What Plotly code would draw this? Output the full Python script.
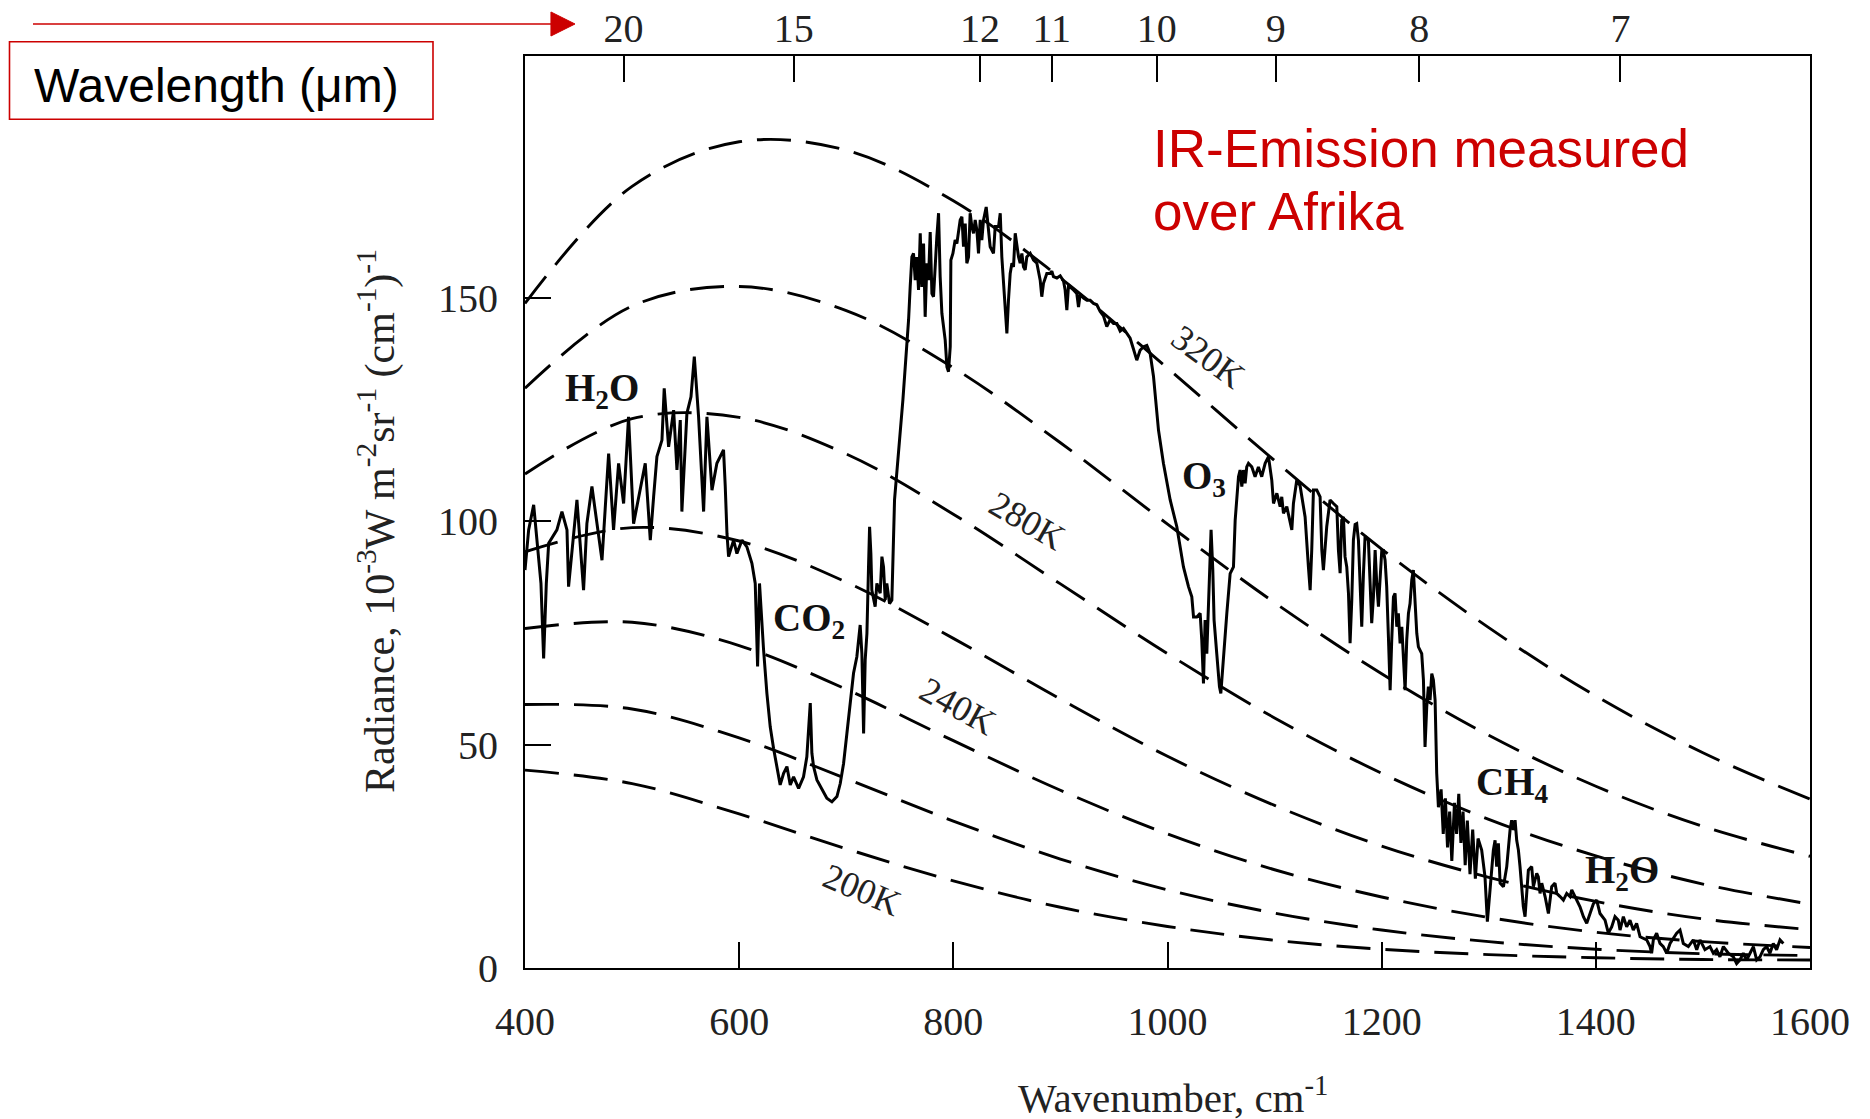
import plotly.graph_objects as go

# ---- blackbody reference curves (10^-3 W m^-2 sr^-1 (cm^-1)^-1), every 100 cm^-1 ----
curve_wn = [400, 500, 600, 700, 800, 900, 1000, 1100, 1200, 1300, 1400, 1500, 1600]
bb_200K = [44.3, 41.3, 34.5, 26.7, 19.5, 13.6, 9.3, 6.2, 4.2, 3.0, 2.3, 1.9, 1.8]
bb_220K = [59.0, 58.0, 51.5, 42.4, 32.9, 24.4, 17.5, 12.3, 8.5, 5.9, 4.2, 3.2, 2.8]
bb_240K = [76.0, 77.4, 72.2, 62.4, 50.9, 39.8, 30.0, 22.0, 15.9, 11.3, 8.0, 5.9, 4.6]
bb_260K = [93.2, 98.6, 95.6, 86.4, 73.8, 60.2, 47.4, 36.4, 27.3, 20.3, 14.9, 11.0, 8.6]
bb_280K = [110.6, 123.0, 123.3, 115.1, 101.6, 86.0, 70.4, 56.0, 43.6, 33.3, 25.1, 18.8, 14.3]
bb_300K = [129.8, 148.2, 152.6, 147.2, 134.4, 117.6, 99.4, 81.8, 65.9, 52.1, 40.7, 31.7, 25.0]
bb_320K = [148.8, 175.0, 185.0, 183.1, 171.8, 154.5, 134.3, 113.6, 93.8, 76.2, 60.9, 48.2, 37.8]

# ---- measured emission spectrum ----
wavenumber = [
    400.0, 403.4, 408.1, 411.2, 414.9, 417.4, 419.9, 422.1, 429.8, 434.5, 439.2, 440.7,
    448.5, 454.7, 457.8, 462.5, 471.9, 478.1, 482.7, 487.4, 492.1, 496.7, 501.4, 512.3,
    517.0, 520.1, 523.2, 527.9, 530.0, 534.1, 538.8, 541.9, 545.0, 546.5, 551.2, 555.0,
    558.1, 562.1, 565.2, 566.8, 569.9, 574.6, 579.2, 585.4, 587.0, 588.6, 590.1, 594.8,
    597.9, 602.6, 607.2, 611.9, 615.0, 617.2, 619.0, 621.0, 622.8,
    625.9, 629.0, 632.1, 635.2, 638.3, 641.5, 644.6, 647.7, 650.8, 655.5, 660.1, 663.2,
    664.8, 666.4, 667.9, 669.5, 672.6, 677.3, 681.9, 686.6, 691.3, 694.4, 697.5, 700.6,
    703.7, 706.8, 709.9, 713.0, 714.6, 716.2, 717.7, 719.3, 720.8, 721.8, 723.0, 723.9,
    727.0, 728.6, 731.7, 733.3, 734.8, 736.4, 737.9, 740.4, 742.6, 744.2, 745.1,
    752.9, 755.1, 756.6, 758.2, 759.7, 761.3, 762.8, 764.4, 765.9, 767.5, 769.1, 770.6,
    772.2, 773.7, 775.3, 776.8, 778.4, 780.0, 781.5, 783.1, 784.6, 786.2, 787.7, 789.3,
    792.4, 794.0, 795.5, 797.1, 797.7, 799.6, 801.7, 803.3, 806.4, 808.0, 809.5, 811.1,
    812.6, 814.2, 815.7, 817.3, 818.9, 820.4, 822.0, 823.5, 825.1, 826.6, 828.2, 830.7,
    832.9, 834.4, 837.5, 839.1, 842.2, 843.8, 845.3, 846.9, 848.4, 850.0, 851.5, 853.1,
    854.7, 856.2, 857.8, 859.3, 860.9, 862.4, 864.0, 865.5, 867.1, 868.6, 871.8, 874.9,
    878.0, 881.1, 882.6, 884.2, 887.3, 890.4, 892.0, 893.5, 896.7, 899.8, 902.9, 904.4,
    906.0, 907.6, 909.1, 912.2, 915.3, 916.9, 918.4, 921.6, 924.7, 927.8, 930.9, 934.0,
    937.1, 940.2, 943.3, 946.4, 949.6, 952.7, 955.8, 958.9, 962.0, 965.1, 968.2, 971.3,
    974.4, 977.6, 980.7, 983.8,
    986.9, 990.0, 991.6, 996.2, 1002.5, 1008.7, 1011.8, 1014.9, 1019.6, 1022.7, 1024.3,
    1027.4, 1030.5, 1032.0, 1033.6, 1035.1, 1036.7, 1038.3, 1039.8, 1040.7, 1042.3,
    1043.5, 1046.0, 1048.5, 1049.8, 1052.3, 1055.4, 1058.5, 1061.6, 1063.2, 1064.7,
    1066.3, 1067.8, 1069.4, 1070.9, 1072.5, 1074.0, 1075.6, 1078.7, 1081.8, 1084.9,
    1088.0, 1091.2, 1094.3, 1097.4, 1099.0, 1102.1, 1105.2, 1106.7, 1108.3, 1111.4,
    1114.5, 1116.1, 1117.6, 1120.7,
    1123.8, 1128.5, 1131.6, 1133.2, 1134.7, 1136.3, 1139.4, 1142.5, 1144.1, 1145.6,
    1148.7, 1151.8, 1155.0, 1158.1, 1159.6, 1161.2, 1162.7, 1164.3, 1165.8, 1167.4,
    1169.0, 1170.5, 1172.1, 1173.6, 1175.2, 1176.7, 1178.3, 1179.8, 1181.4, 1183.0,
    1184.5, 1187.6, 1189.2, 1190.7, 1192.3, 1193.9, 1195.4, 1197.0, 1200.1, 1201.6,
    1203.2, 1204.7, 1206.3, 1207.9, 1209.4, 1211.0, 1212.5, 1214.1, 1215.6, 1217.2,
    1218.8, 1220.3, 1221.9, 1223.4, 1225.0, 1226.5, 1228.1, 1229.6, 1231.2, 1232.8,
    1234.3, 1237.4, 1239.0, 1239.6, 1240.5, 1242.1, 1243.6, 1245.2, 1246.8, 1248.3,
    1249.9, 1251.4,
    1253.0, 1255.5, 1257.5, 1259.5, 1261.5, 1263.5, 1265.5, 1268.0, 1270.0, 1272.0,
    1274.0, 1276.0, 1278.0, 1280.0, 1282.5, 1285.0, 1287.5, 1290.0,
    1293.4, 1296.5, 1298.7, 1301.2, 1304.3, 1305.9, 1307.4, 1309.0, 1310.6, 1313.7,
    1316.8, 1319.9, 1321.4, 1323.0, 1324.6, 1326.1, 1327.7, 1329.2, 1330.8, 1332.3,
    1333.9, 1335.5, 1337.0, 1340.1, 1341.7, 1343.2, 1344.8, 1346.3, 1347.9, 1349.5,
    1352.6, 1355.7, 1357.2, 1358.8, 1361.9, 1363.5, 1366.6, 1369.7, 1372.8, 1375.9,
    1377.5, 1380.6, 1385.2, 1388.4, 1391.5, 1394.6, 1397.7, 1400.8, 1403.9, 1408.6,
    1411.7, 1414.8, 1417.9, 1421.0, 1422.6, 1425.7, 1428.8, 1431.9, 1435.0, 1438.1,
    1441.3, 1447.5, 1450.6, 1452.1, 1453.7, 1456.8, 1459.9, 1463.0, 1466.2, 1469.3,
    1475.5, 1478.6, 1481.7, 1486.4, 1491.0, 1494.2, 1497.3, 1501.9, 1506.6, 1509.7,
    1512.8, 1515.9, 1519.1, 1523.7, 1528.4, 1531.5, 1534.6, 1537.7, 1540.8, 1544.0,
    1547.1, 1550.2, 1553.3, 1556.4, 1559.5, 1562.6, 1565.7, 1568.8, 1572.0, 1575.1,
]
radiance = [
    89.1, 98.1, 103.7, 95.1, 86.1, 69.3, 86.1, 95.1, 98.1, 102.2, 98.1, 85.4,
    104.8, 84.6, 99.5, 107.8, 91.3, 115.2, 98.1, 113.0, 104.0, 123.4, 99.5, 113.0,
    95.8, 105.5, 114.5, 118.2, 129.8, 116.7, 124.9, 111.5, 122.7, 102.2, 124.2, 127.9,
    136.9, 123.4, 110.7, 102.2, 123.4, 107.0, 113.0, 116.0, 107.8, 97.3, 92.1, 95.8,
    92.8, 95.8, 94.3, 90.6, 86.1, 67.5, 86.1, 78.0, 71.2,
    61.5, 54.0, 49.2, 45.1, 41.0, 43.6, 45.1, 41.0, 42.8, 40.2, 42.8, 47.3,
    52.5, 59.3, 48.1, 45.1, 42.1, 39.9, 38.0, 37.2, 38.4, 41.3, 45.8, 52.5,
    60.0, 66.0, 69.7, 76.8, 70.4, 52.5, 69.0, 74.9, 89.8, 98.8, 92.8, 84.6,
    80.9, 86.1, 83.9, 92.1, 89.8, 82.4, 86.1, 81.6, 82.4, 100.3, 104.8,
    127.2, 134.6, 141.3, 145.1, 152.5, 159.2, 160.0, 154.0, 159.2, 151.8, 164.5, 152.5,
    162.2, 145.8, 157.8, 154.0, 164.8, 151.0, 150.3, 157.8, 163.7, 169.0, 154.8, 146.6,
    140.6, 134.6, 133.5, 139.1, 158.5, 160.0, 163.0, 162.2, 167.5, 168.2, 161.5, 166.7,
    157.8, 159.2, 169.0, 166.0, 164.5, 167.5, 165.2, 160.0, 167.5, 163.0, 167.5, 170.4,
    165.2, 161.5, 160.0, 166.0, 166.0, 169.0, 159.2, 154.0, 148.0, 142.1, 149.5, 155.5,
    157.8, 157.0, 164.5, 161.5, 159.2, 157.8, 160.0, 157.0, 156.3, 159.2, 160.0, 158.5,
    157.8, 154.0, 150.3, 153.3, 155.5, 155.5, 156.0, 154.8, 154.5, 155.0, 153.8, 151.8,
    147.3, 153.0, 152.5, 151.8, 151.0, 148.0, 150.8, 150.0, 149.5, 149.5, 148.8, 148.5,
    147.0, 146.0, 143.6, 145.1, 144.3, 144.3, 142.6, 143.2, 142.0, 141.0, 138.6, 136.1,
    138.3, 139.1, 139.4, 137.6,
    132.5, 125.5, 120.4, 113.0, 104.8, 98.8, 94.3, 89.8, 85.4, 83.1, 78.6,
    78.6, 79.4, 73.4, 63.7, 77.9, 70.4, 80.1, 92.8, 98.1, 89.1,
    77.9, 70.4, 63.0, 61.5, 70.4, 79.4, 88.3, 89.8, 100.3, 104.8,
    110.0, 111.5, 107.8, 111.5, 108.5, 112.2, 113.0, 112.2, 110.0, 112.2,
    110.0, 113.0, 114.5, 109.2, 104.0, 106.3, 103.3, 105.5, 101.8, 103.3,
    100.3, 98.1, 104.0, 109.2,
    108.0, 101.0, 89.8, 84.6, 93.6, 107.0, 107.0, 105.5, 93.6, 89.1,
    98.8, 104.8, 104.0, 103.3, 93.6, 88.4, 100.3, 101.0, 92.1, 89.8,
    83.9, 72.7, 82.4, 95.8, 99.3, 99.5, 95.8, 84.6, 76.4, 88.4,
    96.6, 95.8, 86.1, 77.2, 83.1, 93.6, 86.1, 80.9, 93.5, 93.5,
    91.3, 85.4, 74.2, 62.2, 73.4, 83.1, 83.9, 76.4, 79.4, 72.7,
    76.4, 70.4, 62.2, 73.4, 79.4, 81.6, 86.9, 89.1, 82.4, 74.9,
    71.9, 70.4, 64.5, 58.5, 49.5, 58.5, 63.0, 60.0, 65.9, 64.5,
    60.0, 43.6,
    36.0, 40.0, 30.0, 38.0, 27.0, 35.0, 24.0, 37.0, 30.0, 39.0,
    28.0, 35.0, 23.0, 33.0, 21.0, 31.0, 20.0, 29.0,
    26.4, 20.4, 10.4, 17.5, 26.4, 28.6, 22.7, 27.9, 19.0, 18.2,
    22.7, 30.9, 33.1, 30.9, 33.1, 28.6, 26.4, 22.7, 18.2, 13.7,
    11.5, 17.5, 21.9, 22.7, 18.2, 19.7, 21.2, 20.4, 16.7, 19.0,
    16.0, 12.2, 15.2, 18.2, 19.0, 16.7, 16.0, 15.2, 16.7, 16.0,
    17.5, 16.0, 13.7, 11.5, 10.0, 12.2, 14.4, 15.2, 12.2, 10.7,
    7.8, 9.2, 11.5, 10.7, 8.5, 11.5, 9.2, 10.7, 8.5, 10.0,
    7.0, 6.3, 4.8, 3.3, 6.3, 7.8, 5.5, 4.8, 3.3, 5.5,
    7.8, 8.5, 5.5, 4.8, 6.3, 4.1, 6.3, 4.1, 4.8, 3.3,
    4.1, 2.5, 4.8, 3.3, 2.5, 1.0, 1.8, 3.3, 1.8, 3.3,
    4.8, 1.8, 2.5, 4.1, 4.8, 3.3, 5.5, 4.1, 6.3, 5.5,
]

# ---- axis ticks ----
wn_ticks = [400, 600, 800, 1000, 1200, 1400, 1600]
rad_ticks = [0, 50, 100, 150]
wavelength_um = [20, 15, 12, 11, 10, 9, 8, 7]
wavelength_tick_wn = [492, 651, 825, 892, 990, 1101, 1235, 1423]

# ---- labels ----
band_labels = ["H<sub>2</sub>O", "CO<sub>2</sub>", "O<sub>3</sub>", "CH<sub>4</sub>", "H<sub>2</sub>O"]
band_x = [472, 665, 1034, 1322, 1424]
band_y = [129.4, 77.9, 109.5, 41.0, 21.3]

temp_labels = ["320K", "280K", "240K", "200K"]
temp_x = [1038, 869, 804, 715]
temp_y = [136.8, 100.0, 58.7, 17.5]
temp_angle = [36, 30, 29, 23]

SERIF = "Liberation Serif"
SANS = "Liberation Sans"
RED = "#cc0000"

fig = go.Figure()

for vals in [bb_200K, bb_220K, bb_240K, bb_260K, bb_280K, bb_300K, bb_320K]:
    fig.add_trace(go.Scatter(
        x=curve_wn, y=vals, mode="lines",
        line=dict(color="black", width=2.9, dash="34px,15px", shape="spline", smoothing=1.0),
        showlegend=False, hoverinfo="skip",
    ))

fig.add_trace(go.Scatter(
    x=wavenumber, y=radiance, mode="lines",
    line=dict(color="black", width=3),
    showlegend=False,
))

# carrier trace for the wavelength axis on top
fig.add_trace(go.Scatter(
    x=[400, 1600], y=[0, 0], xaxis="x2", mode="lines",
    line=dict(width=0, color="rgba(0,0,0,0)"), showlegend=False, hoverinfo="skip",
))

tickfont = dict(family=SERIF, size=40, color="#222")

fig.update_layout(
    width=1870, height=1119,
    template="none",
    paper_bgcolor="white", plot_bgcolor="white",
    margin=dict(l=525, r=60, t=56, b=151),
    xaxis=dict(
        range=[400, 1600], tickvals=wn_ticks, ticks="inside", ticklen=26,
        tickwidth=1.5, tickcolor="black", showline=True, linecolor="black",
        linewidth=2, mirror=True, showgrid=False, zeroline=False,
        tickfont=tickfont, ticklabelstandoff=17,
    ),
    xaxis2=dict(
        overlaying="x", side="top", anchor="y", range=[400, 1600],
        tickvals=wavelength_tick_wn,
        ticktext=[str(w) for w in wavelength_um],
        ticks="inside", ticklen=26, tickwidth=1.5, tickcolor="black",
        showline=False, showgrid=False, zeroline=False,
        tickfont=tickfont, ticklabelstandoff=5,
    ),
    yaxis=dict(
        range=[0, 204.2], tickvals=rad_ticks, ticks="inside", ticklen=26,
        tickwidth=1.5, tickcolor="black", showline=True, linecolor="black",
        linewidth=2, mirror=True, showgrid=False, zeroline=False,
        tickfont=tickfont, ticklabelstandoff=17,
    ),
)

annotations = []
for txt, x, y in zip(band_labels, band_x, band_y):
    annotations.append(dict(
        x=x, y=y, xref="x", yref="y", text="<b>" + txt + "</b>", showarrow=False,
        font=dict(family=SERIF, size=39, color="#111"),
    ))
for txt, x, y, a in zip(temp_labels, temp_x, temp_y, temp_angle):
    annotations.append(dict(
        x=x, y=y, xref="x", yref="y", text=txt, showarrow=False, textangle=a,
        font=dict(family=SERIF, size=36, color="#222"),
    ))

# axis titles
annotations.append(dict(
    x=0.5043, y=-0.139, xref="paper", yref="paper", text="Wavenumber, cm<sup>-1</sup>",
    showarrow=False, font=dict(family=SERIF, size=41, color="#222"),
    xanchor="center", yanchor="middle",
))
annotations.append(dict(
    x=-0.1156, y=0.4906, xref="paper", yref="paper", textangle=-90,
    text="Radiance, 10<sup>-3</sup>W m<sup>-2</sup>sr<sup>-1</sup> (cm<sup>-1</sup>)<sup>-1</sup>",
    showarrow=False, font=dict(family=SERIF, size=42, color="#222"),
    xanchor="center", yanchor="middle",
))

# red notes
annotations.append(dict(
    x=-0.3837, y=0.9682, xref="paper", yref="paper", text="Wavelength (\u03bcm)",
    showarrow=False, font=dict(family=SANS, size=48, color="black"),
    xanchor="left", yanchor="middle",
))
annotations.append(dict(
    x=0.4872, y=0.8985, xref="paper", yref="paper", text="IR-Emission measured",
    showarrow=False, font=dict(family=SANS, size=53, color=RED),
    xanchor="left", yanchor="middle",
))
annotations.append(dict(
    x=0.4872, y=0.8290, xref="paper", yref="paper", text="over Afrika",
    showarrow=False, font=dict(family=SANS, size=53, color=RED),
    xanchor="left", yanchor="middle",
))
fig.update_layout(annotations=annotations)

shapes = [
    # box round the wavelength note
    dict(type="rect", xref="paper", yref="paper",
         x0=-0.40117, x1=-0.07160, y0=0.93059, y1=1.01568,
         line=dict(color=RED, width=1.6), fillcolor="rgba(0,0,0,0)"),
    # arrow pointing to the wavelength scale
    dict(type="line", xref="paper", yref="paper",
         x0=-0.3829, x1=0.0210, y0=1.03509, y1=1.03509,
         line=dict(color=RED, width=1.6)),
    dict(type="path", xref="paper", yref="paper",
         path="M 0.0202 1.04825 L 0.0389 1.03509 L 0.0202 1.02193 Z",
         fillcolor=RED, line=dict(color=RED, width=1)),
]
fig.update_layout(shapes=shapes)

fig.write_html("out.html")
